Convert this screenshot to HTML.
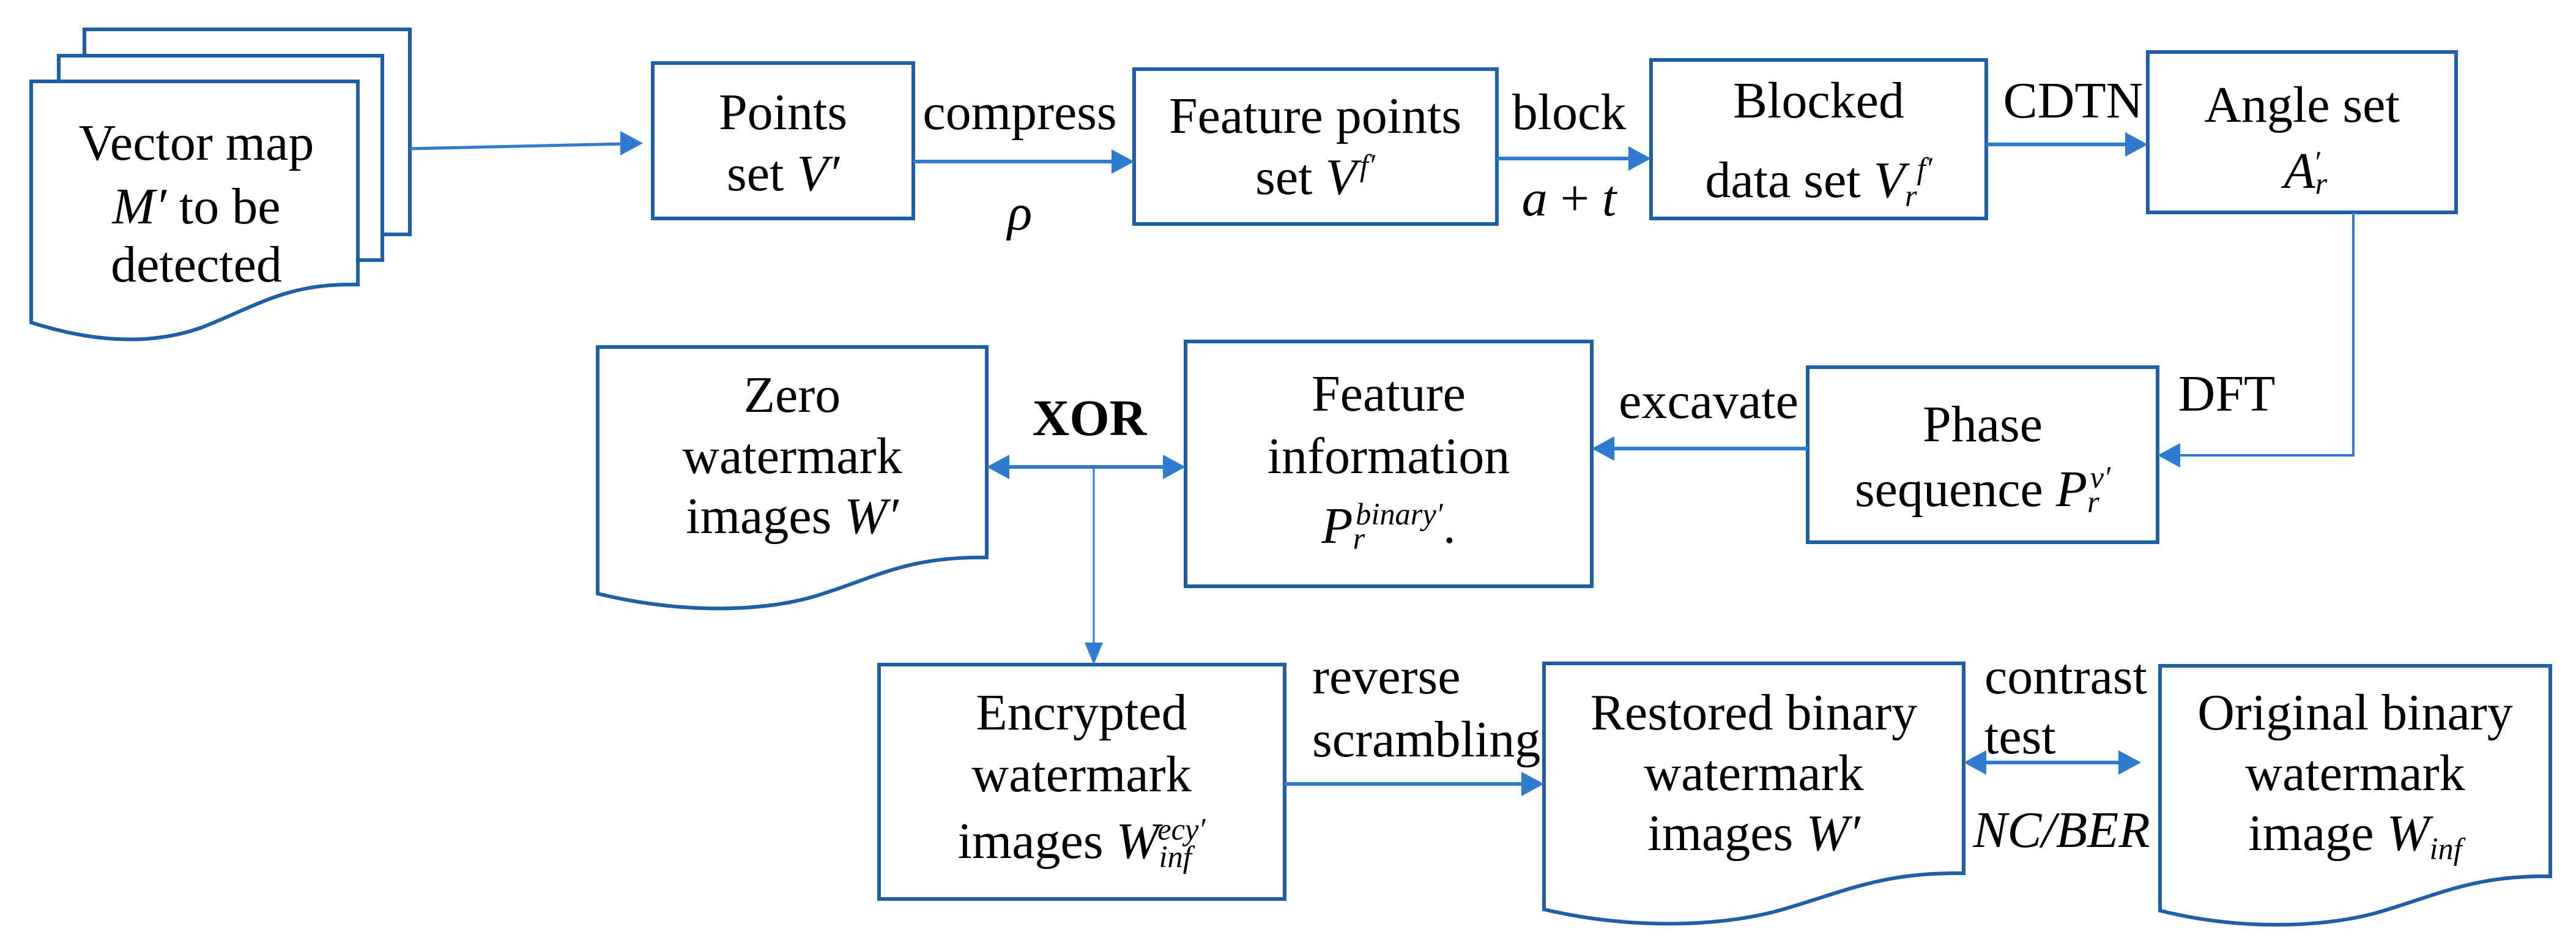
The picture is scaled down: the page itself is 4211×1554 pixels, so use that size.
<!DOCTYPE html>
<html><head><meta charset="utf-8"><style>
html,body{margin:0;padding:0;background:#fff;}
#c{position:relative;width:4211px;height:1554px;overflow:hidden;font-family:"Liberation Serif","Times New Roman","DejaVu Serif",serif;color:#000;}
svg{position:absolute;left:0;top:0;}
.t{position:absolute;transform:translate(-50%,-50%);font-size:84px;line-height:1;white-space:nowrap;text-align:center;font-family:"Liberation Serif","Times New Roman","DejaVu Serif",serif;}
.l{position:absolute;transform:translate(0,-50%);font-size:84px;line-height:1;white-space:nowrap;font-family:"Liberation Serif","Times New Roman","DejaVu Serif",serif;}
i{font-style:italic;}
sub,sup{font-size:60%;font-style:italic;line-height:0;}
</style></head><body><div id="c">
<svg width="4211" height="1554" viewBox="0 0 4211 1554">
<g fill="#fff" stroke="#1f5fa8" stroke-width="6">
<rect x="138" y="48" width="532" height="335"/>
<rect x="96" y="91" width="529" height="334"/>
<path d="M51,133 L585,133 L585,465 C470,462 420,500 330,535 C260,560 170,565 51,527 Z"/>
<rect x="1067" y="103" width="426" height="254"/>
<rect x="1854" y="113" width="593" height="253"/>
<rect x="2699" y="98" width="548" height="259"/>
<rect x="3511" y="85" width="504" height="262"/>
<rect x="2955" y="600" width="572" height="286"/>
<rect x="1938" y="558" width="664" height="400"/>
<path d="M977,567 L1613,567 L1613,911 C1480,909 1430,945 1330,975 C1250,998 1120,1005 977,970 Z"/>
<rect x="1437" y="1086" width="663" height="383"/>
<path d="M2524,1084 L3210,1084 L3210,1427 C3070,1425 3010,1460 2900,1490 C2800,1515 2660,1518 2524,1486 Z"/>
<path d="M3531,1088 L4169,1088 L4169,1432 C4040,1430 3980,1465 3880,1493 C3790,1516 3660,1520 3531,1488 Z"/>
</g>
<g stroke="#2f7bd0" stroke-width="6" fill="none">
<line x1="670" y1="243" x2="1020" y2="235" stroke-width="5"/>
<line x1="1493" y1="264" x2="1822" y2="264"/>
<line x1="2447" y1="259" x2="2668" y2="259"/>
<line x1="3247" y1="236" x2="3480" y2="236"/>
<polyline points="3847,347 3847,744 3558,744" stroke-width="4"/>
<line x1="2955" y1="733" x2="2633" y2="733"/>
<line x1="1645" y1="763" x2="1906" y2="763"/>
<line x1="1788" y1="763" x2="1788" y2="1055" stroke-width="3"/>
<line x1="2100" y1="1281" x2="2492" y2="1281"/>
<line x1="3242" y1="1246" x2="3468" y2="1246"/>
</g>
<g fill="#2f7bd0">
<polygon points="1051,234 1014,214 1014,254"/>
<polygon points="1854,264 1817,244 1817,284"/>
<polygon points="2699,259 2662,239 2662,279"/>
<polygon points="3511,236 3474,216 3474,256"/>
<polygon points="3527,744 3564,724 3564,764"/>
<polygon points="2602,733 2639,713 2639,753"/>
<polygon points="1613,763 1650,743 1650,783"/>
<polygon points="1938,763 1901,743 1901,783"/>
<polygon points="1788,1086 1773,1050 1803,1050"/>
<polygon points="2524,1281 2487,1261 2487,1301"/>
<polygon points="3210,1246 3247,1226 3247,1266"/>
<polygon points="3500,1246 3463,1226 3463,1266"/>
</g>
</svg>

<div class="t" style="left:321px;top:234px">Vector map</div>
<div class="t" style="left:321px;top:338px"><i>M′</i> to be</div>
<div class="t" style="left:321px;top:433px">detected</div>

<div class="t" style="left:1280px;top:184px">Points</div>
<div class="t" style="left:1280px;top:284px">set <i>V′</i></div>
<div class="t" style="left:1667px;top:184px">compress</div>
<div class="t" style="left:1667px;top:348px"><i>ρ</i></div>

<div class="t" style="left:2150px;top:190px">Feature points</div>
<div class="t" style="left:2150px;top:290px">set <i>V</i><sup style="vertical-align:0.6em;margin-left:0.1em">f′</sup></div>
<div class="t" style="left:2565px;top:184px">block</div>
<div class="t" style="left:2565px;top:325px"><i>a</i> + <i>t</i></div>

<div class="t" style="left:2973px;top:165px">Blocked</div>
<div class="t" style="left:2973px;top:295px">data set <i>V</i><sub style="vertical-align:-0.3em">r</sub><sup style="vertical-align:0.6em">f′</sup></div>
<div class="t" style="left:3389px;top:165px">CDTN</div>

<div class="t" style="left:3763px;top:172px">Angle set</div>
<div class="t" style="left:3763px;top:280px"><i>A</i><sub style="vertical-align:-0.2em">r</sub><sup style="margin-left:-0.45em;vertical-align:0.5em">′</sup></div>

<div class="t" style="left:3640px;top:644px">DFT</div>
<div class="t" style="left:3241px;top:694px">Phase</div>
<div class="t" style="left:3241px;top:800px">sequence <i>P</i><sub style="vertical-align:-0.2em">r</sub><sup style="margin-left:-0.3em;vertical-align:0.6em">v′</sup></div>
<div class="t" style="left:2793px;top:656px">excavate</div>

<div class="t" style="left:2270px;top:644px">Feature</div>
<div class="t" style="left:2270px;top:746px">information</div>
<div class="t" style="left:2270px;top:860px"><i>P</i><sub style="vertical-align:-0.2em">r</sub><sup style="margin-left:-0.3em;vertical-align:0.6em">binary′</sup>.</div>

<div class="t" style="left:1295px;top:646px">Zero</div>
<div class="t" style="left:1295px;top:746px">watermark</div>
<div class="t" style="left:1295px;top:844px">images <i>W′</i></div>
<div class="t" style="left:1781px;top:684px;font-weight:bold">XOR</div>

<div class="t" style="left:1768px;top:1165px">Encrypted</div>
<div class="t" style="left:1768px;top:1266px">watermark</div>
<div class="t" style="left:1768px;top:1375px">images <i>W</i><sub style="vertical-align:-0.3em">inf</sub><sup style="margin-left:-1.1em;vertical-align:0.6em">ecy′</sup></div>

<div class="l" style="left:2145px;top:1106px">reverse</div>
<div class="l" style="left:2145px;top:1209px">scrambling</div>

<div class="t" style="left:2867px;top:1165px">Restored binary</div>
<div class="t" style="left:2867px;top:1264px">watermark</div>
<div class="t" style="left:2867px;top:1362px">images <i>W′</i></div>

<div class="l" style="left:3244px;top:1106px">contrast</div>
<div class="l" style="left:3244px;top:1204px">test</div>
<div class="t" style="left:3370px;top:1357px"><i>NC/BER</i></div>

<div class="t" style="left:3850px;top:1165px">Original binary</div>
<div class="t" style="left:3850px;top:1264px">watermark</div>
<div class="t" style="left:3850px;top:1362px">image <i>W</i><sub style="vertical-align:-0.3em">inf</sub></div>
</div></body></html>
